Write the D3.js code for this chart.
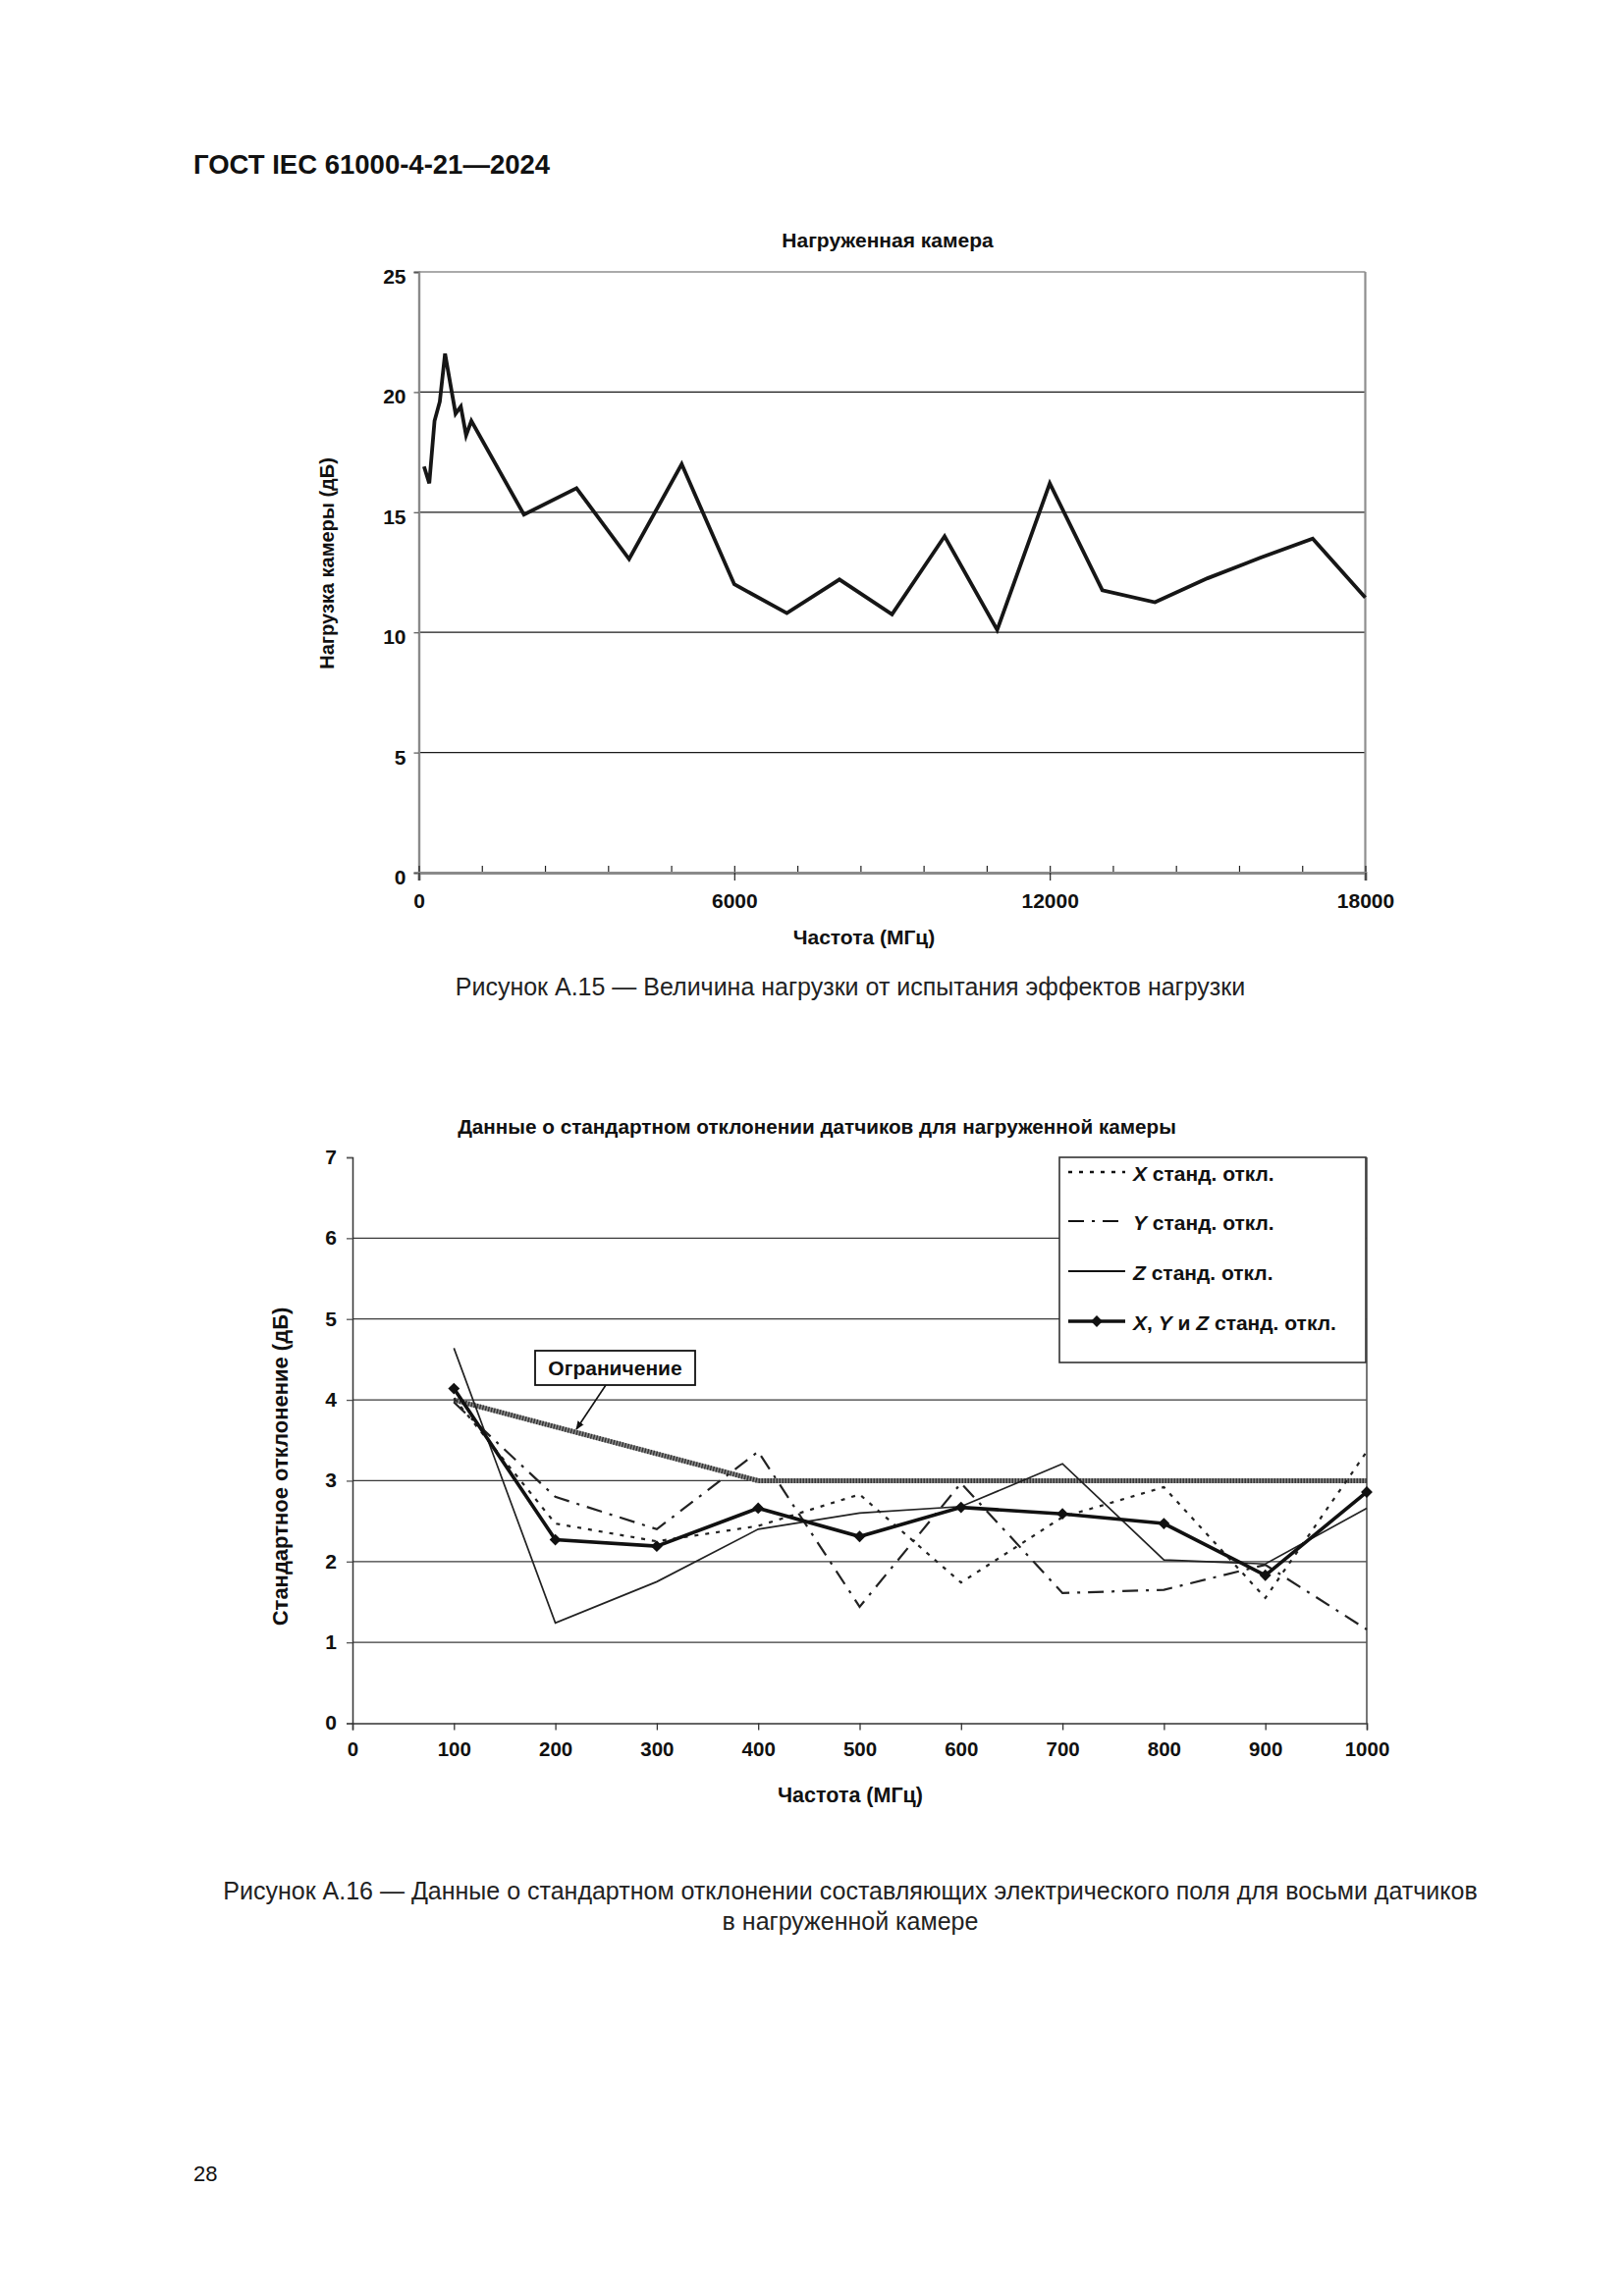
<!DOCTYPE html>
<html><head><meta charset="utf-8">
<script src="https://cdn.jsdelivr.net/npm/d3@7"></script>
<style>
html,body{margin:0;padding:0;background:#fff;}
svg{display:block;font-family:"Liberation Sans",Arial,sans-serif;}
</style></head>
<body>
<script>
// ---------- Figure A.15 data ----------
const loadFreq = [100,200,300,400,500,700,800,900,1000,2000,3000,4000,5000,6000,7000,8000,9000,10000,11000,12000,13000,14000,15000,16000,17000,18000];
const loadDb   = [16.9,16.2,18.8,19.6,21.6,19.1,19.4,18.2,18.8,14.9,16.0,13.05,17.0,12.0,10.8,12.2,10.75,14.0,10.1,16.2,11.75,11.25,12.25,13.1,13.9,11.45];
const load_xTicks = [0,6000,12000,18000];
const load_yTicks = [0,5,10,15,20,25];

// ---------- Figure A.16 data ----------
const sdFreq = [100,200,300,400,500,600,700,800,900,1000];
const sdX   = [4.02,2.47,2.25,2.44,2.83,1.74,2.55,2.92,1.55,3.36];
const sdY   = [3.97,2.80,2.40,3.36,1.44,2.97,1.61,1.65,1.96,1.16];
const sdZ   = [4.64,1.24,1.75,2.40,2.60,2.68,3.21,2.02,1.97,2.66];
const sdXYZ = [4.14,2.27,2.19,2.66,2.31,2.67,2.59,2.47,1.83,2.86];
const limitFreq = [100,400,1000];
const limitVal  = [4,3,3];
const sd_xTicks = [0,100,200,300,400,500,600,700,800,900,1000];
const sd_yTicks = [0,1,2,3,4,5,6,7];

const W = 1654, H = 2339;
const svg = d3.select("body").append("svg").attr("width", W).attr("height", H);
svg.append("rect").attr("width", W).attr("height", H).attr("fill", "#fff");

svg.append("text").attr("x", 197).attr("y", 177).attr("font-size", 27.5).attr("font-weight", "bold")
  .attr("fill", "#111").text("ГОСТ IEC 61000-4-21—2024");
svg.append("text").attr("x", 197).attr("y", 2222).attr("font-size", 22).attr("fill", "#111").text("28");

// ================= Chart 1 =================
{
  const x = d3.scaleLinear().domain([0,18000]).range([426.5,1390.5]);
  const y = d3.scaleLinear().domain([0,25]).range([889,277]);
  const g = svg.append("g");

  g.selectAll(".grid").data(load_yTicks.filter(v => v > 0 && v < 25)).enter().append("line")
    .attr("x1", x(0)).attr("x2", x(18000)).attr("y1", d => y(d)).attr("y2", d => y(d))
    .attr("stroke", "#1a1a1a").attr("stroke-width", 1.2);
  g.append("line").attr("x1", x(0)).attr("x2", x(18000)).attr("y1", y(25)).attr("y2", y(25))
    .attr("stroke", "#8e8e8e").attr("stroke-width", 1.6);
  g.append("line").attr("x1", x(18000)).attr("x2", x(18000)).attr("y1", y(25)).attr("y2", y(0))
    .attr("stroke", "#8e8e8e").attr("stroke-width", 2.2);

  const ya = g.append("g").attr("transform", `translate(${x(0)},0)`)
    .call(d3.axisLeft(y).tickValues(load_yTicks).tickSize(5).tickPadding(8).tickFormat(d3.format("d")));
  ya.select(".domain").attr("stroke", "#8a8a8a").attr("stroke-width", 2.4);
  ya.selectAll(".tick line").attr("stroke", "#555").attr("stroke-width", 1.2);
  ya.selectAll(".tick text").attr("font-size", 21).attr("font-weight", "bold").attr("fill", "#111")
    .attr("font-family", "Liberation Sans, Arial, sans-serif").attr("dy", "0.55em");

  const xm = g.append("g").attr("transform", `translate(0,${y(0)})`)
    .call(d3.axisBottom(x).tickValues(d3.range(0,18001,1200)).tickSize(-7).tickFormat(""));
  xm.select(".domain").remove();
  xm.selectAll(".tick line").attr("stroke", "#222").attr("stroke-width", 1.2);
  const xa = g.append("g").attr("transform", `translate(0,${y(0)})`)
    .call(d3.axisBottom(x).tickValues(load_xTicks).tickSize(8).tickPadding(13).tickFormat(d3.format("d")));
  xa.select(".domain").attr("stroke", "#8a8a8a").attr("stroke-width", 3);
  xa.selectAll(".tick line").attr("stroke", "#222").attr("stroke-width", 1.2);
  xa.selectAll(".tick text").attr("font-size", 21).attr("font-weight", "bold").attr("fill", "#111")
    .attr("font-family", "Liberation Sans, Arial, sans-serif");

  const pts = loadFreq.map((f,i) => [f, loadDb[i]]);
  g.append("path").datum(pts)
    .attr("d", d3.line().x(d => x(d[0])).y(d => y(d[1])))
    .attr("fill", "none").attr("stroke", "#161616").attr("stroke-width", 3.8).attr("stroke-linejoin", "miter");

  g.append("text").attr("x", 904).attr("y", 252).attr("text-anchor", "middle")
    .attr("font-size", 21).attr("font-weight", "bold").attr("fill", "#111").text("Нагруженная камера");
  g.append("text").attr("transform", "translate(340,574) rotate(-90)").attr("text-anchor", "middle")
    .attr("font-size", 20).attr("font-weight", "bold").attr("fill", "#111").text("Нагрузка камеры (дБ)");
  g.append("text").attr("x", 880).attr("y", 962).attr("text-anchor", "middle")
    .attr("font-size", 21).attr("font-weight", "bold").attr("fill", "#111").text("Частота (МГц)");
  g.append("text").attr("x", 866).attr("y", 1014).attr("text-anchor", "middle")
    .attr("font-size", 25).attr("fill", "#222").text("Рисунок А.15 — Величина нагрузки от испытания эффектов нагрузки");
}

// ================= Chart 2 =================
{
  const x = d3.scaleLinear().domain([0,1000]).range([359,1392]);
  const y = d3.scaleLinear().domain([0,7]).range([1755.5,1179]);
  const g = svg.append("g");

  g.selectAll(".grid").data(sd_yTicks.filter(v => v > 0 && v < 7)).enter().append("line")
    .attr("x1", x(0)).attr("x2", x(1000)).attr("y1", d => y(d)).attr("y2", d => y(d))
    .attr("stroke", "#3a3a3a").attr("stroke-width", 1.3);
  g.append("line").attr("x1", x(1000)).attr("x2", x(1000)).attr("y1", y(7)).attr("y2", y(0))
    .attr("stroke", "#555").attr("stroke-width", 1.6);

  const ya = g.append("g").attr("transform", `translate(${x(0)},0)`)
    .call(d3.axisLeft(y).tickValues(sd_yTicks).tickSize(6).tickPadding(10).tickFormat(d3.format("d")));
  ya.select(".domain").attr("stroke", "#333").attr("stroke-width", 1.5);
  ya.selectAll(".tick line").attr("stroke", "#555").attr("stroke-width", 1.3);
  ya.selectAll(".tick text").attr("font-size", 21).attr("font-weight", "bold").attr("fill", "#111")
    .attr("font-family", "Liberation Sans, Arial, sans-serif").attr("dy", "0.3em");

  const xa = g.append("g").attr("transform", `translate(0,${y(0)})`)
    .call(d3.axisBottom(x).tickValues(sd_xTicks).tickSize(7).tickPadding(12).tickFormat(d3.format("d")));
  xa.select(".domain").attr("stroke", "#333").attr("stroke-width", 1.5);
  xa.selectAll(".tick line").attr("stroke", "#333").attr("stroke-width", 1.3);
  xa.selectAll(".tick text").attr("font-size", 20.5).attr("font-weight", "bold").attr("fill", "#111")
    .attr("font-family", "Liberation Sans, Arial, sans-serif");

  const line = d3.line().x(d => x(d[0])).y(d => y(d[1]));

  const lim = limitFreq.map((f,i) => [f, limitVal[i]]);
  g.append("path").datum(lim).attr("d", line).attr("fill", "none")
    .attr("stroke", "#8a8a8a").attr("stroke-width", 5);
  g.append("path").datum(lim).attr("d", line).attr("fill", "none")
    .attr("stroke", "#333").attr("stroke-width", 5).attr("stroke-dasharray", "1.4,1.6");

  const ser = arr => sdFreq.map((f,i) => [f, arr[i]]);
  g.append("path").datum(ser(sdZ)).attr("d", line).attr("fill", "none")
    .attr("stroke", "#222").attr("stroke-width", 1.7);
  g.append("path").datum(ser(sdX)).attr("d", line).attr("fill", "none")
    .attr("stroke", "#222").attr("stroke-width", 2.2).attr("stroke-dasharray", "4,7");
  g.append("path").datum(ser(sdY)).attr("d", line).attr("fill", "none")
    .attr("stroke", "#222").attr("stroke-width", 2.2).attr("stroke-dasharray", "16,8,3,8");
  g.append("path").datum(ser(sdXYZ)).attr("d", line).attr("fill", "none")
    .attr("stroke", "#111").attr("stroke-width", 3.6);
  const sym = d3.symbol().type(d3.symbolSquare).size(70);
  g.selectAll(".mk").data(ser(sdXYZ)).enter().append("path")
    .attr("d", sym).attr("fill", "#111")
    .attr("transform", d => `translate(${x(d[0])},${y(d[1])}) rotate(45)`);

  g.append("defs").append("marker").attr("id", "arr").attr("viewBox", "0 0 10 10")
    .attr("refX", 9).attr("refY", 5).attr("markerWidth", 9).attr("markerHeight", 9)
    .attr("orient", "auto").attr("markerUnits", "userSpaceOnUse")
    .append("path").attr("d", "M0,1 L10,5 L0,9 Z").attr("fill", "#111");
  g.append("line").attr("x1", 617).attr("y1", 1411).attr("x2", 587).attr("y2", 1456)
    .attr("stroke", "#111").attr("stroke-width", 1.6).attr("marker-end", "url(#arr)");
  g.append("rect").attr("x", 545).attr("y", 1376).attr("width", 163).attr("height", 35)
    .attr("fill", "#fff").attr("stroke", "#111").attr("stroke-width", 1.8);
  g.append("text").attr("x", 626.5).attr("y", 1401).attr("text-anchor", "middle")
    .attr("font-size", 21).attr("font-weight", "bold").attr("fill", "#111").text("Ограничение");

  const lg = g.append("g");
  lg.append("rect").attr("x", 1079).attr("y", 1179).attr("width", 312).attr("height", 209)
    .attr("fill", "#fff").attr("stroke", "#333").attr("stroke-width", 1.6);
  const rows = [
    {base:1203, dash:"4,7", w:2.4, parts:[["X","italic"],[" станд. откл.","normal"]]},
    {base:1253, dash:"16,8,3,8", w:2.2, parts:[["Y","italic"],[" станд. откл.","normal"]]},
    {base:1304, dash:null, w:1.8, parts:[["Z","italic"],[" станд. откл.","normal"]]},
    {base:1355, dash:null, w:3.6, marker:true, parts:[["X","italic"],[", ","normal"],["Y","italic"],[" и ","normal"],["Z","italic"],[" станд. откл.","normal"]]}
  ];
  rows.forEach(r => {
    const ly = r.base - 9;
    const l = lg.append("line").attr("x1", 1088).attr("x2", 1146).attr("y1", ly).attr("y2", ly)
      .attr("stroke", "#111").attr("stroke-width", r.w);
    if (r.dash) l.attr("stroke-dasharray", r.dash);
    if (r.marker) lg.append("path").attr("d", sym).attr("fill", "#111")
      .attr("transform", `translate(1117,${ly}) rotate(45)`);
    const t = lg.append("text").attr("x", 1154).attr("y", r.base).attr("font-size", 21)
      .attr("font-weight", "bold").attr("fill", "#111");
    r.parts.forEach(p => t.append("tspan").attr("font-style", p[1]).text(p[0]));
  });

  g.append("text").attr("x", 832).attr("y", 1155).attr("text-anchor", "middle")
    .attr("font-size", 20.7).attr("font-weight", "bold").attr("fill", "#111")
    .text("Данные о стандартном отклонении датчиков для нагруженной камеры");
  g.append("text").attr("transform", "translate(293,1494) rotate(-90)").attr("text-anchor", "middle")
    .attr("font-size", 22).attr("font-weight", "bold").attr("fill", "#111").text("Стандартное отклонение (дБ)");
  g.append("text").attr("x", 866).attr("y", 1836).attr("text-anchor", "middle")
    .attr("font-size", 21.5).attr("font-weight", "bold").attr("fill", "#111").text("Частота (МГц)");
  g.append("text").attr("x", 866).attr("y", 1935).attr("text-anchor", "middle")
    .attr("font-size", 25).attr("fill", "#222")
    .text("Рисунок А.16 — Данные о стандартном отклонении составляющих электрического поля для восьми датчиков");
  g.append("text").attr("x", 866).attr("y", 1966).attr("text-anchor", "middle")
    .attr("font-size", 25).attr("fill", "#222").text("в нагруженной камере");
}
</script>
</body></html>
